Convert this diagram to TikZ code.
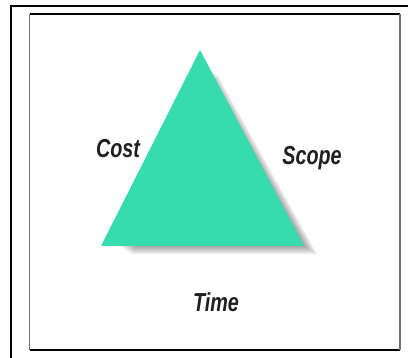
\documentclass[tikz,border=0pt]{standalone}
\usepackage{fontspec}
\setmainfont{Liberation Sans}
\definecolor{tri}{RGB}{54,219,174}
\tikzset{
  lbl/.style={font=\fontsize{26}{26}\selectfont\bfseries\itshape, xscale=0.76, inner sep=0pt, text=black!88},
  frameline/.style={line width=1.2pt, draw=black},
  sideline/.style={line width=1.8pt, draw=black!55},
  shadowstep/.style={fill=black, fill opacity=0.03}
}
\begin{document}
\begin{tikzpicture}[x=1pt,y=-1pt]
\useasboundingbox (0,0) rectangle (408,358);
\fill[white] (0,0) rectangle (408,358);
% outer frame (top and left visible)
\draw[frameline] (11,358) -- (11,6) -- (408,6);
% inner frame
\draw[frameline] (29.5,14) -- (400,14);
\draw[frameline] (29.5,350) -- (400,350);
\draw[sideline] (29.5,14) -- (29.5,350);
\draw[sideline] (400,14) -- (400,350);
% triangle with shadow
\coordinate (apex) at (200,50);
\coordinate (bl) at (101,246);
\coordinate (br) at (304,246);
\foreach \i in {1,...,18} {
  \fill[shadowstep, shift={(\i*1.1,\i*0.7)}] (198,62) -- (298,242) -- (112,242) -- cycle;
}
\fill[tri] (apex) -- (br) -- (bl) -- cycle;
% labels
\node[lbl] (cost) at (118,149) {Cost};
\node[lbl] (scope) at (312,158) {Scope};
\node[lbl] (time) at (216,302) {Time};
\end{tikzpicture}
\end{document}
